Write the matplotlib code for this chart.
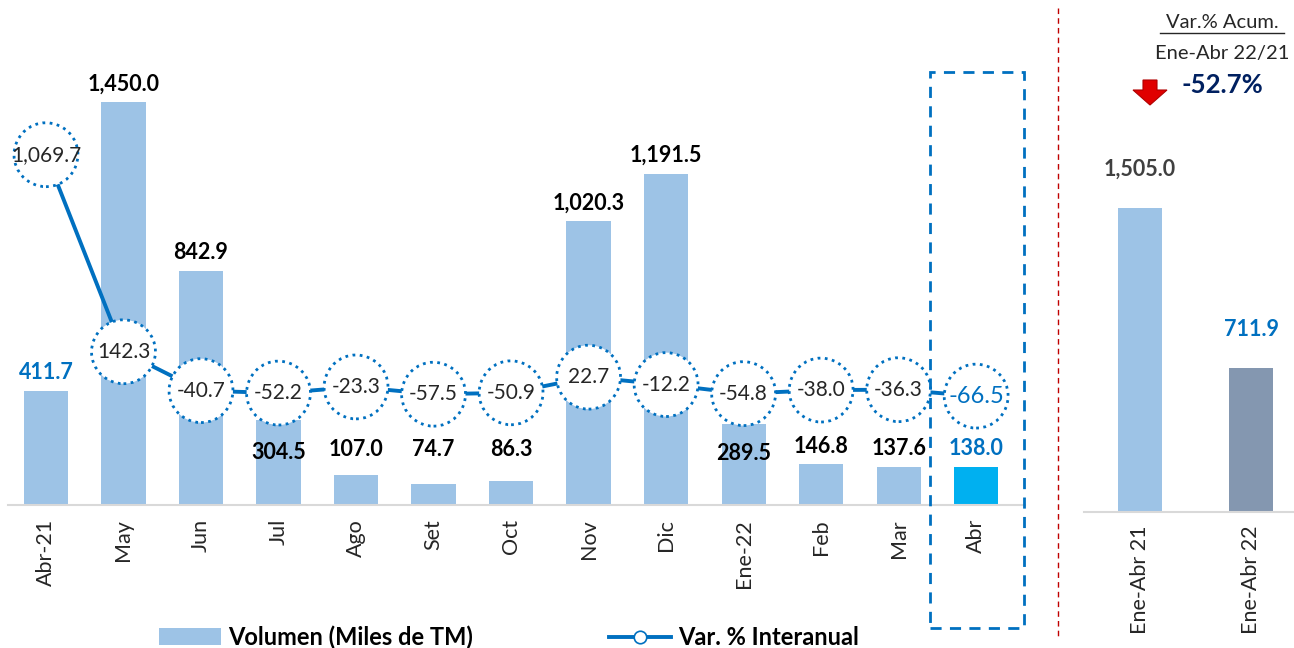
import matplotlib
matplotlib.use("Agg")
import matplotlib.pyplot as plt
from matplotlib.patches import Patch, Rectangle, Polygon
from matplotlib.lines import Line2D

plt.rcParams['font.family'] = ['Lato', 'DejaVu Sans']

# data
meses = ['Abr-21', 'May', 'Jun', 'Jul', 'Ago', 'Set', 'Oct', 'Nov', 'Dic',
         'Ene-22', 'Feb', 'Mar', 'Abr']
volumen = [411.7, 1450.0, 842.9, 304.5, 107.0, 74.7, 86.3, 1020.3, 1191.5,
           289.5, 146.8, 137.6, 138.0]
var_pct = [1069.7, 142.3, -40.7, -52.2, -23.3, -57.5, -50.9, 22.7, -12.2,
           -54.8, -38.0, -36.3, -66.5]
acum_labels = ['Ene-Abr 21', 'Ene-Abr 22']
acum_vol = [1505.0, 711.9]
acum_var = -52.7

AZUL_CLARO = '#9DC3E6'
AZUL = '#0070C0'
CELESTE = '#00B0F0'
GRIS_AZUL = '#8497B0'

W, H = 1294, 648
fig = plt.figure(figsize=(W / 100, H / 100), dpi=100)

def fx(px):
    return px / W

def fy(py):
    return 1 - py / H

# main panel
ax = fig.add_axes([fx(8), fy(505), fx(1017), 505 / H])
x = list(range(len(meses)))
colores = [AZUL_CLARO] * (len(meses) - 1) + [CELESTE]
ax.bar(x, volumen, width=0.57, color=colores, zorder=1)
ax.set_xlim(-0.49, 12.63)
ax.set_ylim(0, 1816)
ax.set_xticks(x)
ax.set_xticklabels(meses, rotation=90, fontsize=15.5, color='#262626')
ax.tick_params(axis='x', length=0, pad=10)
ax.set_yticks([])
for s in ['top', 'right', 'left']:
    ax.spines[s].set_visible(False)
ax.spines['bottom'].set_color('#D9D9D9')
ax.spines['bottom'].set_linewidth(1.5)

ax2 = ax.twinx()
ax2.set_ylim(-579, 1798)
ax2.set_yticks([])
for s in ['top', 'right', 'left', 'bottom']:
    ax2.spines[s].set_visible(False)
ax2.plot(x, var_pct, color=AZUL, lw=2.8, zorder=2)
ax2.scatter(x, var_pct, s=46 ** 2, facecolor='white', edgecolor=AZUL,
            linewidths=2, linestyles=(0, (1, 1.6)), zorder=3)
for i, v in enumerate(var_pct):
    ultimo = i == len(var_pct) - 1
    ax2.text(i, v, f'{v:,.1f}', ha='center', va='center',
             fontsize=17 if ultimo else 15,
             color=AZUL if ultimo else '#262626', zorder=4)

# bar labels, moved below the circles where they would collide
to_primary = ax2.transData + ax.transData.inverted()
for i, v in enumerate(volumen):
    y = max(v + 65, 200)
    my = to_primary.transform((i, var_pct[i]))[1]
    if abs(y - my) < 150:
        y = my - 215
    c = AZUL if i in (0, len(volumen) - 1) else 'black'
    ax.text(i, y, f'{v:,.1f}', ha='center', va='center', fontsize=15.5,
            fontweight='bold', color=c, zorder=5)

# right panel
axr = fig.add_axes([fx(1084), fy(512), fx(210), 512 / H])
axr.bar([0, 1], acum_vol, width=0.40, color=[AZUL_CLARO, GRIS_AZUL])
axr.set_xlim(-0.505, 1.387)
axr.set_ylim(0, 2535)
axr.set_xticks([0, 1])
axr.set_xticklabels(acum_labels, rotation=90, fontsize=15.5, color='#262626')
axr.tick_params(axis='x', length=0, pad=10)
axr.set_yticks([])
for s in ['top', 'right', 'left']:
    axr.spines[s].set_visible(False)
axr.spines['bottom'].set_color('#D9D9D9')
axr.spines['bottom'].set_linewidth(1.5)
for i, v in enumerate(acum_vol):
    c = '#404040' if i == 0 else AZUL
    axr.text(i, v + 190, f'{v:,.1f}', ha='center', va='center', fontsize=15.5,
             fontweight='bold', color=c)

# header on the right
fig.text(fx(1222), fy(22), 'Var.% Acum.', ha='center', va='center',
         fontsize=14.5, color='#262626')
fig.add_artist(Line2D([fx(1160), fx(1284)], [fy(33), fy(33)],
                      color='#262626', lw=1))
fig.text(fx(1222), fy(53), 'Ene-Abr 22/21', ha='center', va='center',
         fontsize=14.5, color='#262626')
fig.text(fx(1222), fy(85), f'{acum_var:.1f}%', ha='center', va='center',
         fontsize=18.5, fontweight='bold', color='#002060')
flecha = [(1143, 80), (1157, 80), (1157, 90), (1167, 90), (1150, 105),
          (1133, 90), (1143, 90)]
fig.add_artist(Polygon([(fx(a), fy(b)) for a, b in flecha], closed=True,
                       facecolor='#E00000', edgecolor='#B00000', lw=0.8))

# separators
fig.add_artist(Line2D([fx(1058), fx(1058)], [fy(8), fy(636)], color='#C00000',
                      lw=1, ls=(0, (4, 3))))
fig.add_artist(Rectangle((fx(930), fy(628)), fx(94), (628 - 72) / H,
                         fill=False, edgecolor=AZUL, lw=2,
                         ls=(0, (4, 3))))

# legend
handles = [Patch(facecolor=AZUL_CLARO, edgecolor='none'),
           Line2D([0], [0], color=AZUL, lw=2.8, marker='o', markersize=9,
                  markerfacecolor='white', markeredgecolor=AZUL,
                  markeredgewidth=1.2)]
fig.legend(handles, ['Volumen (Miles de TM)', 'Var. % Interanual'],
           loc='center', bbox_to_anchor=(fx(509), fy(637)), ncol=2,
           frameon=False, prop={'weight': 'bold', 'size': 17},
           columnspacing=5.8, handlelength=2.6, handletextpad=0.3)

fig.savefig('out.png', dpi=100)
